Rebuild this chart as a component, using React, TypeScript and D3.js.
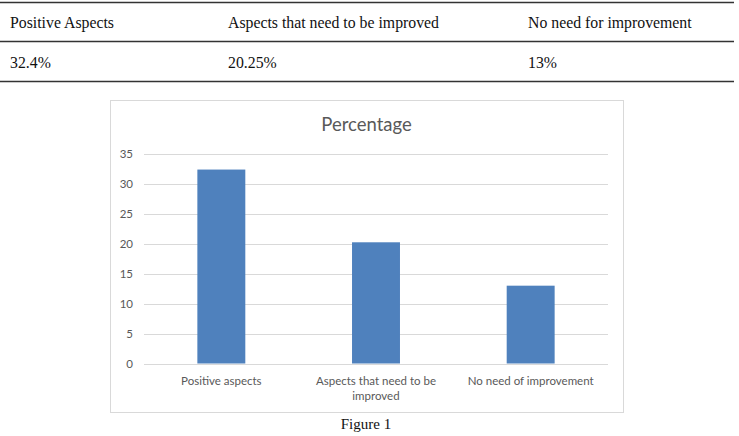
import React, { useEffect, useRef } from "react";
import * as d3 from "d3";

// table on top of the figure
const tableHeaders = ["Positive Aspects", "Aspects that need to be improved", "No need for improvement"];
const tableValues = ["32.4%", "20.25%", "13%"];

// chart data
const categories = ["Positive aspects", "Aspects that need to be improved", "No need of improvement"];
const percentages = [32.4, 20.25, 13];
const yTicks = [0, 5, 10, 15, 20, 25, 30, 35];

const chartTitle = "Percentage";
const caption = "Figure 1";

export default function App() {
  const ref = useRef<SVGSVGElement>(null);

  useEffect(() => {
    const width = 739;
    const height = 436;
    const svg = d3.select(ref.current);
    svg.selectAll("*").remove();
    svg.attr("width", width).attr("height", height);

    // ---- table ----
    const serif = "'Liberation Serif', 'Times New Roman', serif";
    const colX = d3.scaleOrdinal<string, number>().domain(tableHeaders).range([10, 228, 528]);
    [2.5, 41.5, 81.5].forEach(y => {
      svg.append("line").attr("x1", 0).attr("x2", 734).attr("y1", y).attr("y2", y)
        .attr("stroke", "#333").attr("stroke-width", 1.3);
    });
    svg.selectAll(".th").data(tableHeaders).enter().append("text")
      .attr("x", d => colX(d)).attr("y", 27.5)
      .attr("font-family", serif).attr("font-size", 15.8).attr("fill", "#111")
      .text(d => d);
    svg.selectAll(".td").data(tableValues).enter().append("text")
      .attr("x", (d, i) => colX(tableHeaders[i])).attr("y", 68)
      .attr("font-family", serif).attr("font-size", 15.8).attr("fill", "#111")
      .text(d => d);

    // ---- chart frame ----
    const frame = { x: 110, y: 100, w: 513, h: 312 };
    svg.append("rect").attr("x", frame.x + 0.5).attr("y", frame.y + 0.5)
      .attr("width", frame.w).attr("height", frame.h)
      .attr("fill", "#fff").attr("stroke", "#d9d9d9");

    const sans = "Lato, 'Open Sans', sans-serif";
    svg.append("text").attr("x", frame.x + frame.w / 2).attr("y", 131)
      .attr("text-anchor", "middle").attr("font-family", sans).attr("font-size", 18.5)
      .attr("fill", "#595959").text(chartTitle);

    const plot = { left: 144, right: 608, top: 154, bottom: 363.5 };
    const x = d3.scaleBand<string>().domain(categories)
      .range([plot.left, plot.right]).paddingInner(0.69).paddingOuter(0.345);
    const y = d3.scaleLinear().domain([0, 35]).range([plot.bottom, plot.top]);

    const g = svg.append("g");
    g.selectAll(".grid").data(yTicks).enter().append("line")
      .attr("x1", plot.left).attr("x2", plot.right)
      .attr("y1", d => Math.round(y(d)) + 0.5).attr("y2", d => Math.round(y(d)) + 0.5)
      .attr("stroke", "#d9d9d9").attr("stroke-width", 1);

    g.selectAll(".ylab").data(yTicks).enter().append("text")
      .attr("x", 133).attr("y", d => y(d)).attr("dy", "0.35em")
      .attr("text-anchor", "end").attr("font-family", sans).attr("font-size", 11.5)
      .attr("fill", "#595959").text(d => d);

    g.selectAll(".bar").data(percentages).enter().append("rect")
      .attr("x", (d, i) => x(categories[i])!)
      .attr("width", x.bandwidth())
      .attr("y", d => y(d))
      .attr("height", d => y(0) - y(d))
      .attr("fill", "#4f81bd");

    // category labels, wrapped to the band step
    const maxW = x.step() * 0.92;
    categories.forEach(c => {
      const t = g.append("text").attr("x", x(c)! + x.bandwidth() / 2).attr("y", 385)
        .attr("text-anchor", "middle").attr("font-family", sans).attr("font-size", 11.5)
        .attr("fill", "#595959");
      const words = c.split(" ");
      let line: string[] = [];
      let tspan = t.append("tspan").attr("x", x(c)! + x.bandwidth() / 2).attr("dy", 0);
      words.forEach(w => {
        line.push(w);
        tspan.text(line.join(" "));
        if ((tspan.node() as SVGTSpanElement).getComputedTextLength() > maxW && line.length > 1) {
          line.pop();
          tspan.text(line.join(" "));
          line = [w];
          tspan = t.append("tspan").attr("x", x(c)! + x.bandwidth() / 2).attr("dy", 15).text(w);
        }
      });
    });

    // caption
    svg.append("text").attr("x", 366).attr("y", 429).attr("text-anchor", "middle")
      .attr("font-family", serif).attr("font-size", 15).attr("fill", "#111").text(caption);
  }, []);

  return <svg ref={ref} style={{ position: "absolute", left: 0, top: 0 }} />;
}
